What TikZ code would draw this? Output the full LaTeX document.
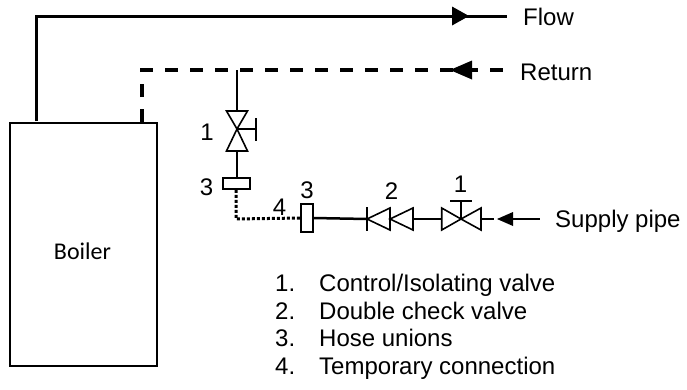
\documentclass[tikz,border=0pt]{standalone}
\usepackage{fontspec}
\setmainfont{Liberation Sans}
\newfontfamily\boilerfont{Carlito}
\begin{document}
\begin{tikzpicture}[x=1pt,y=-1pt,
  pipe/.style={line width=3pt},
  retpipe/.style={line width=3.3pt, dash pattern=on 13pt off 12pt},
  temp/.style={line width=3pt, dash pattern=on 3pt off 2pt},
  thinpipe/.style={line width=2.5pt},
  valve/.style={line width=1.6pt, fill=white, line join=miter},
  head/.style={fill=black, draw=none},
  txt/.style={inner sep=0pt, font=\fontsize{24}{28}\selectfont},
  lbl/.style={inner sep=0pt, font=\fontsize{24}{28}\selectfont, anchor=base}]
\useasboundingbox (0,0) rectangle (687,389);

% boiler
\node[draw, line width=1.5pt, minimum width=147pt, minimum height=243pt, inner sep=0pt, anchor=north west] (boiler) at (9,122) {};
\node[inner sep=0pt, anchor=base, font=\boilerfont\fontsize{24}{28}\selectfont] (boilertxt) at (82.5,259) {Boiler};

% flow pipe
\coordinate (fA) at (36,121);
\coordinate (fB) at (36,16);
\coordinate (fC) at (507,16);
\draw[pipe] (fA) -- (fB) -- (fC);
\fill[head] (469,16) -- (452,6.5) -- (452,25.5) -- cycle;
\node[txt, anchor=base west] (flow) at (523,25) {Flow};

% return pipe
\coordinate (rA) at (142,122);
\coordinate (rB) at (142,70);
\coordinate (rC) at (505,70);
\draw[retpipe] (rA) -- (rB) -- (rC);
\fill[head] (450,70) -- (472,60.5) -- (472,79.5) -- cycle;
\node[txt, anchor=base west] (return) at (520,80) {Return};

% branch down with isolating valve
\coordinate (bT) at (237,70);
\coordinate (vC) at (237,129);
\draw[thinpipe] (bT) -- (237,111);
\draw[valve] (226.5,111) -- (247.5,111) -- (vC) -- cycle;
\draw[valve] (226.5,151) -- (247.5,151) -- (vC) -- cycle;
\draw[valve] (vC) -- (256,129);
\draw[valve] (256,118) -- (256,141);
\node[lbl] (l1a) at (207,140) {1};

% upper hose union
\draw[thinpipe] (237,151) -- (237,178);
\node[draw, line width=1.8pt, minimum width=27pt, minimum height=11pt, inner sep=0pt] (u1) at (236.5,183.5) {};
\node[lbl] (l3a) at (206.5,195) {3};

% temporary connection
\coordinate (tC) at (236,219);
\node[draw, line width=1.8pt, minimum width=12pt, minimum height=28pt, inner sep=0pt] (u2) at (306.7,218) {};
\draw[temp] (u1.south -| tC) -- (tC) -- (u2.west);
\node[lbl] (l4) at (279.5,215) {4};
\node[lbl] (l3b) at (307,198) {3};

% supply line
\coordinate (cv) at (367,219);
\draw[thinpipe] (u2.east) -- (cv);
\draw[valve] (367,207) -- (367,231);
\draw[valve] (367,219) -- (390,208) -- (390,230) -- cycle;
\draw[valve] (390,219) -- (413,208) -- (413,230) -- cycle;
\node[lbl] (l2) at (391.5,199) {2};

\coordinate (iv) at (461,219);
\draw[thinpipe] (413,219) -- (441.7,219);
\draw[valve] (441.7,208) -- (441.7,230) -- (iv) -- cycle;
\draw[valve] (481,208) -- (481,230) -- (iv) -- cycle;
\draw[valve] (iv) -- (461,201);
\draw[valve] (450,201) -- (472,201);
\node[lbl] (l1b) at (460.5,192) {1};
\draw[thinpipe] (481,219) -- (494,219);

\fill[head] (497,219) -- (513,212) -- (513,226) -- cycle;
\coordinate (sE) at (540,219);
\draw[thinpipe] (513,219) -- (sE);
\node[txt, anchor=base west] (supply) at (555,227) {Supply pipe};

% legend
\foreach \n/\t/\y in {1/Control\slash Isolating valve/291.5, 2/Double check valve/319, 3/Hose unions/346.5, 4/Temporary connection/374}{
  \node[txt, anchor=base west] (ln\n) at (275,\y) {\n.};
  \node[txt, anchor=base west] (lt\n) at (319,\y) {\t};
}
\end{tikzpicture}
\end{document}
